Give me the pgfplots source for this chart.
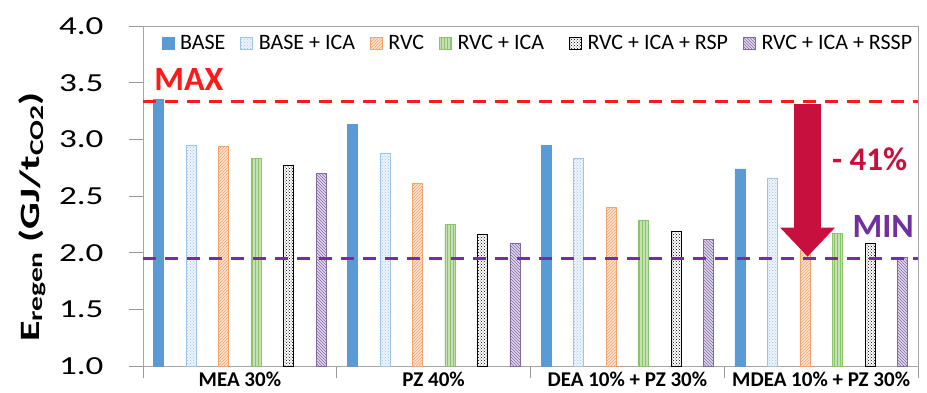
\documentclass[border=0pt]{standalone}
\usepackage{pgfplots}
\pgfplotsset{compat=1.18}
\usepackage{pgfplotstable}
\usepackage{fontspec}
\setmainfont{Carlito}
\newfontfamily\tickfont[FakeStretch=1.35]{Carlito}
\newfontfamily\labelfont[FakeStretch=1.5]{Carlito}
\usetikzlibrary{patterns,arrows.meta}
\definecolor{cBase}{HTML}{5B9BD5}
\definecolor{cIcaF}{HTML}{EEF4FB}
\definecolor{cIcaD}{HTML}{9DC3E6}
\definecolor{cRvcF}{HTML}{FBE3D3}
\definecolor{cRvcD}{HTML}{F4A46A}
\definecolor{cGrF}{HTML}{C5E0B4}
\definecolor{cGrD}{HTML}{8CC46A}
\definecolor{cPuF}{HTML}{E2D8F0}
\definecolor{cPuD}{HTML}{7F6A9E}
\definecolor{cMax}{HTML}{FF1A1A}
\definecolor{cMin}{HTML}{7030A0}
\definecolor{cArrow}{HTML}{C8103E}

\pgfplotstableread{
x    BASE BASEICA RVC  RVCICA RSP  RSSP
0.5  3.35 2.95    2.94 2.83   2.77 2.70
1.5  3.13 2.88    2.61 2.25   2.16 2.08
2.5  2.95 2.83    2.40 2.29   2.19 2.12
3.5  2.74 2.66    2.02 2.17   2.08 1.96
}\datatable

\pgfplotstableread{
x  y
0  3.33
4  3.33
}\maxline
\pgfplotstableread{
x  y
0  1.95
4  1.95
}\minline

\begin{document}
\begin{tikzpicture}
\useasboundingbox (0,0) rectangle (927pt,392pt);
\begin{axis}[
  at={(143pt,26pt)}, anchor=south west,
  width=775pt, height=340pt, scale only axis,
  xmin=0, xmax=4, ymin=1, ymax=4,
  ybar=22.5pt, bar width=10pt,
  xtick={0.5,1.5,2.5,3.5},
  xticklabels={MEA 30\%, PZ 40\%, DEA 10\% + PZ 30\%, MDEA 10\% + PZ 30\%},
  minor xtick={0,1,2,3,4},
  major x tick style={draw=none},
  minor x tick style={draw=gray!80, line width=0.8pt},
  tick align=outside,
  major tick length=14pt, minor tick length=12pt,
  xtick pos=bottom, ytick pos=left,
  ytick={1,1.5,2,2.5,3,3.5,4},
  ytick style={draw=gray!80, line width=0.8pt},
  axis line style={draw=gray!70, line width=0.8pt},
  /pgf/number format/assume math mode=true,
  yticklabel style={/pgf/number format/.cd, fixed, fixed zerofill, precision=1, /tikz/.cd,
    font=\tickfont\fontsize{26}{26}\selectfont, xshift=-22pt},
  xticklabel style={font=\bfseries\fontsize{21}{21}\selectfont, inner sep=1pt, yshift=9pt},
  ylabel={\textbf{E\textsubscript{regen} (GJ/t\textsubscript{CO2})}},
  ylabel style={at={(axis description cs:-0.143,0.438)}, anchor=center,
    font=\labelfont\fontsize{28}{28}\selectfont},
  legend columns=6,
  legend style={draw=none, fill=none, at={(axis description cs:0.02,0.95)}, anchor=west,
    font=\fontsize{22}{22}\selectfont,
    /tikz/every odd column/.append style={column sep=4pt},
    /tikz/every even column/.append style={column sep=13pt}},
  legend image code/.code={\draw[#1] (0pt,-6pt) rectangle (12pt,6pt);},
  clip=false,
]
\addplot[fill=cBase, draw=cBase] table[x=x, y=BASE] {\datatable};
\addplot[fill=cIcaF, draw=cIcaD, postaction={pattern=crosshatch dots, pattern color=cIcaD}] table[x=x, y=BASEICA] {\datatable};
\addplot[fill=cRvcF, draw=cRvcD, postaction={pattern=north east lines, pattern color=cRvcD}] table[x=x, y=RVC] {\datatable};
\addplot[fill=cGrF, draw=cGrD, postaction={pattern=vertical lines, pattern color=cGrD}] table[x=x, y=RVCICA] {\datatable};
\addplot[fill=white, draw=black, postaction={pattern=crosshatch dots, pattern color=black}] table[x=x, y=RSP] {\datatable};
\addplot[fill=cPuF, draw=cPuD, postaction={pattern=north west lines, pattern color=cPuD}] table[x=x, y=RSSP] {\datatable};
\legend{BASE, BASE + ICA, RVC, RVC + ICA\rule{10pt}{0pt}, RVC + ICA + RSP, RVC + ICA + RSSP}

\addplot[sharp plot, forget plot, no markers, draw=cMax, line width=3pt, dash pattern=on 13pt off 9pt] table[x=x, y=y] {\maxline};
\addplot[sharp plot, forget plot, no markers, draw=cMin, line width=3pt, dash pattern=on 13pt off 9pt] table[x=x, y=y] {\minline};

\draw[draw=cArrow, line width=27pt, -{Triangle[width=53pt, length=29pt]}] (axis cs:3.43,3.31) -- (axis cs:3.43,1.965);
\node[text=cMax, font=\bfseries\fontsize{34}{34}\selectfont, anchor=center] at (axis cs:0.237,3.53) {MAX};
\node[text=cMin, font=\bfseries\fontsize{34}{34}\selectfont, anchor=center] at (axis cs:3.82,2.23) {MIN};
\node[text=cArrow, font=\bfseries\fontsize{33}{33}\selectfont, anchor=center] at (axis cs:3.75,2.82) {- 41\%};
\end{axis}
\end{tikzpicture}
\end{document}
